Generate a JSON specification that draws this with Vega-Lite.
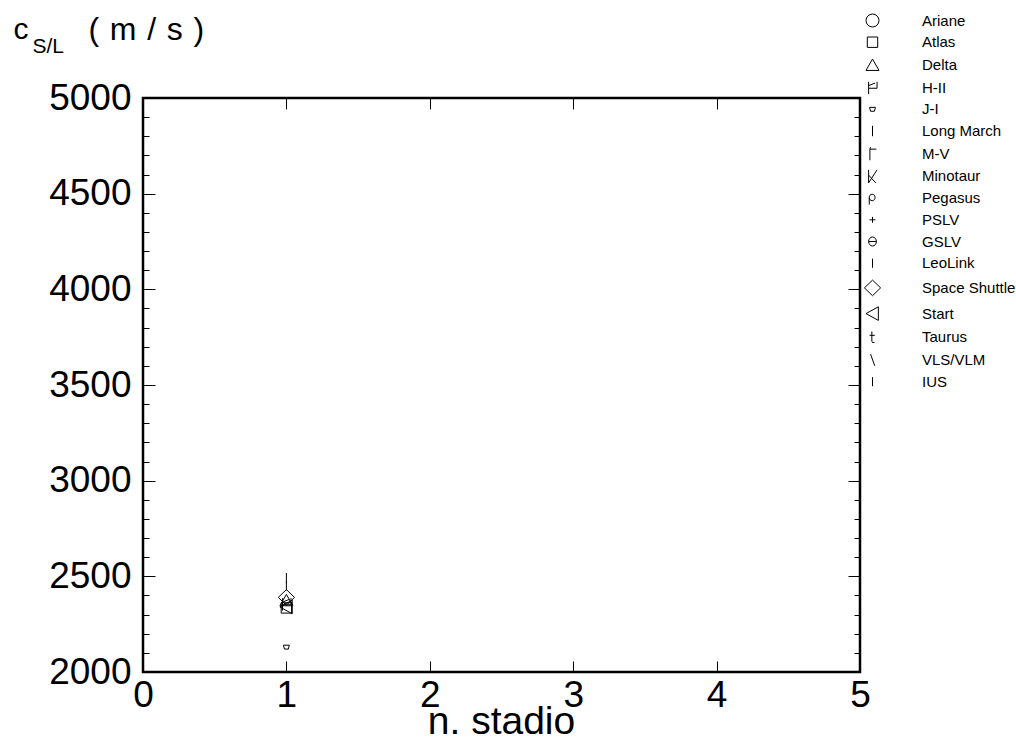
{
  "$schema": "https://vega.github.io/schema/vega-lite/v6.json",
  "autosize": {"type": "none"},
  "width": 717,
  "height": 574,
  "padding": {"left": 143, "top": 98, "right": 156, "bottom": 68},
  "background": "white",
  "data": {
    "values": [
      {"lanciatore": "Long March", "stadio": 1, "c": 2490},
      {"lanciatore": "IUS", "stadio": 1, "c": 2450},
      {"lanciatore": "Space Shuttle", "stadio": 1, "c": 2390},
      {"lanciatore": "Delta", "stadio": 1, "c": 2375},
      {"lanciatore": "H-II", "stadio": 1, "c": 2355},
      {"lanciatore": "Atlas", "stadio": 1, "c": 2335},
      {"lanciatore": "Start", "stadio": 1, "c": 2340},
      {"lanciatore": "J-I", "stadio": 1, "c": 2130}
    ]
  },
  "resolve": {"axis": {"x": "independent", "y": "independent"}},
  "layer": [
    {
      "mark": {"type": "point", "filled": false, "stroke": "black", "strokeWidth": 1, "opacity": 1, "size": 169},
      "encoding": {
        "x": {
          "field": "stadio", "type": "quantitative",
          "scale": {"domain": [0, 5], "nice": false, "zero": false},
          "axis": {
            "orient": "bottom", "values": [0, 1, 2, 3, 4, 5], "format": "d",
            "tickSize": -11, "tickWidth": 1, "labelFontSize": 37, "labelPadding": 16,
            "labelFlush": false, "labelOverlap": false,
            "title": "n. stadio", "titleFontSize": 39, "titleAlign": "center",
            "titleBaseline": "alphabetic", "titleX": 358, "titleY": 61
          }
        },
        "y": {
          "field": "c", "type": "quantitative",
          "scale": {"domain": [2000, 5000], "nice": false, "zero": false},
          "axis": {
            "orient": "left", "values": [2000, 2500, 3000, 3500, 4000, 4500, 5000], "format": "d",
            "tickSize": -12, "tickWidth": 1, "labelFontSize": 37, "labelPadding": 24,
            "labelFlush": false, "labelOverlap": false,
            "title": "c", "titleFontSize": 30, "titleAngle": 0, "titleAlign": "left",
            "titleBaseline": "alphabetic", "titleX": -130, "titleY": -60
          }
        },
        "shape": {
          "field": "lanciatore", "type": "nominal",
          "scale": {
            "domain": ["Ariane", "Atlas", "Delta", "H-II", "J-I", "Long March", "M-V", "Minotaur", "Pegasus", "PSLV", "GSLV", "LeoLink", "Space Shuttle", "Start", "Taurus", "VLS/VLM", "IUS"],
            "range": [
              "circle",
              "M-0.8,-0.8L0.8,-0.8L0.8,0.8L-0.8,0.8Z",
              "M0,-0.9L1,0.85L-1,0.85Z",
              "M-0.6,-0.9L-0.6,1M-0.6,0.1L0.7,0.1M0.7,-0.9L0.7,0.1M-0.6,-0.3L0.4,-0.7",
              "M-0.45,-0.3L0.45,-0.3L0.3,0.3L-0.3,0.3Z",
              "M0,-0.8L0,0.8",
              "M-0.4,1L-0.4,-0.7L0.6,-0.7M-0.4,-0.7L-0.3,-1",
              "M-0.6,-1L-0.6,1L0.7,-1M-0.6,-0.2L0.5,1",
              "M-0.5,1L-0.5,-0.1M-0.5,-0.1A0.45,0.5 0 1,1 0.4,-0.1A0.45,0.5 0 1,1 -0.5,-0.1",
              "M-0.45,0L0.45,0M0,-0.45L0,0.45",
              "M-0.6,0A0.6,0.7 0 1,0 0.6,0A0.6,0.7 0 1,0 -0.6,0M-0.6,0L0.6,0",
              "M0,-0.7L0,0.7",
              "M0,-1.2L1.25,0L0,1.2L-1.25,0Z",
              "M-1,0L0.9,-1.05L0.9,1.05Z",
              "M-0.1,-0.9L-0.1,0.6Q-0.1,0.9 0.3,0.8M-0.45,-0.3L0.35,-0.3",
              "M-0.3,-0.9L0.35,0.9",
              "M0,-0.7L0,0.7"
            ]
          },
          "legend": {
            "orient": "none", "legendX": 722, "legendY": -85, "padding": 0,
            "title": null, "symbolSize": 169, "symbolStrokeColor": "black",
            "symbolFillColor": "transparent", "symbolStrokeWidth": 1,
            "labelFontSize": 15, "labelColor": "black", "labelOffset": 42,
            "rowPadding": 5.7, "labelLimit": 0
          }
        }
      }
    },
    {
      "mark": {"type": "point", "opacity": 0},
      "encoding": {
        "x": {
          "field": "stadio", "type": "quantitative",
          "axis": {
            "orient": "top", "values": [1, 2, 3, 4], "labels": false,
            "tickSize": -11, "tickWidth": 1,
            "title": "S/L", "titleFontSize": 21, "titleAngle": 0, "titleAlign": "left",
            "titleBaseline": "alphabetic", "titleX": -111, "titleY": -46
          }
        },
        "y": {
          "field": "c", "type": "quantitative",
          "axis": {
            "orient": "left", "labels": false, "title": null, "tickSize": -6, "tickWidth": 1,
            "values": [2100, 2200, 2300, 2400, 2600, 2700, 2800, 2900, 3100, 3200, 3300, 3400, 3600, 3700, 3800, 3900, 4100, 4200, 4300, 4400, 4600, 4700, 4800, 4900]
          }
        }
      }
    },
    {
      "mark": {"type": "point", "opacity": 0},
      "encoding": {
        "x": {"field": "stadio", "type": "quantitative", "axis": null},
        "y": {
          "field": "c", "type": "quantitative",
          "axis": {
            "orient": "right", "labels": false, "tickSize": -12, "tickWidth": 1,
            "values": [2500, 3000, 3500, 4000, 4500],
            "title": "(\u2004m\u2004/\u2004s\u2004)", "titleFontSize": 32, "titleAngle": 0, "titleAlign": "left",
            "titleBaseline": "alphabetic", "titleX": -772, "titleY": -59
          }
        }
      }
    },
    {
      "mark": {"type": "point", "opacity": 0},
      "encoding": {
        "x": {"field": "stadio", "type": "quantitative", "axis": null},
        "y": {
          "field": "c", "type": "quantitative",
          "axis": {
            "orient": "right", "labels": false, "title": null, "tickSize": -6, "tickWidth": 1,
            "values": [2100, 2200, 2300, 2400, 2600, 2700, 2800, 2900, 3100, 3200, 3300, 3400, 3600, 3700, 3800, 3900, 4100, 4200, 4300, 4400, 4600, 4700, 4800, 4900]
          }
        }
      }
    }
  ],
  "config": {
    "font": "Liberation Sans",
    "view": {"stroke": "black", "strokeWidth": 2.5},
    "axis": {
      "domain": false, "grid": false, "tickColor": "black", "labelColor": "black",
      "titleColor": "black", "titleFontWeight": "normal", "titleFont": "Liberation Sans", "labelFont": "Liberation Sans"
    },
    "legend": {"labelFont": "Liberation Sans"}
  }
}
